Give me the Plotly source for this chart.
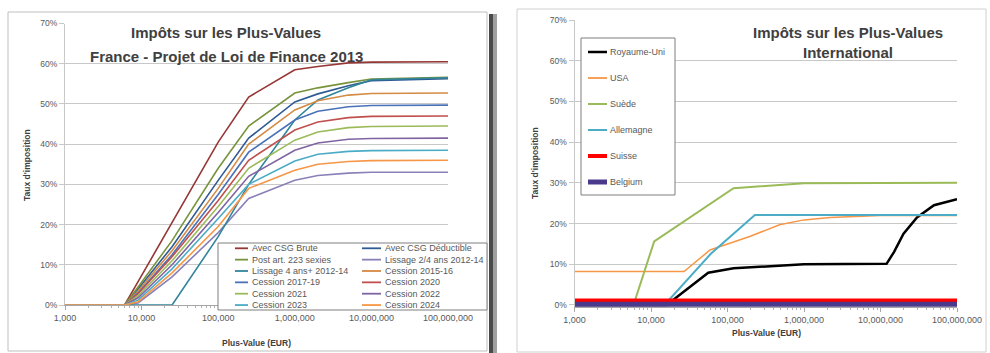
import plotly.graph_objects as go

W, H = 990, 353

# ---------------- Left chart: France ----------------
fr_x = [1000, 6000, 9000, 25000, 100000, 250000, 1000000, 2000000, 5000000, 10000000, 100000000]

avec_csg_brute      = [0, 0, 5.8, 20.5, 40.5, 51.7, 58.5, 59.3, 60.2, 60.4, 60.5]
avec_csg_deductible = [0, 0, 4.0, 14.5, 31.0, 41.5, 50.5, 52.5, 54.5, 55.8, 56.3]
post_art_223        = [0, 0, 4.5, 16.0, 34.0, 44.5, 52.7, 54.0, 55.3, 56.2, 56.6]
lissage_2_4         = [0, 0, 0.5, 7.0, 18.0, 26.5, 31.0, 32.2, 32.8, 33.0, 33.0]
lissage_4_plus      = [0, 0, 0.0, 0.0, 17.0, 30.0, 46.0, 51.0, 54.0, 56.0, 56.5]
cession_2015_16     = [0, 0, 3.5, 13.5, 29.0, 40.0, 48.5, 50.8, 52.2, 52.6, 52.7]
cession_2017_19     = [0, 0, 3.0, 12.5, 27.5, 38.0, 46.0, 48.2, 49.3, 49.6, 49.7]
cession_2020        = [0, 0, 2.8, 12.0, 26.0, 36.0, 43.5, 45.5, 46.6, 46.9, 47.0]
cession_2021        = [0, 0, 2.3, 11.0, 24.5, 34.0, 41.0, 43.0, 44.1, 44.4, 44.5]
cession_2022        = [0, 0, 1.8, 10.0, 23.0, 32.0, 38.5, 40.3, 41.2, 41.4, 41.5]
cession_2023        = [0, 0, 1.2, 9.0, 21.5, 30.0, 35.8, 37.5, 38.2, 38.4, 38.5]
cession_2024        = [0, 0, 0.8, 8.0, 19.5, 29.0, 33.5, 35.0, 35.7, 35.9, 36.0]

fr_series = [
    ("Avec CSG Brute", avec_csg_brute, "#953735"),
    ("Avec CSG Déductible", avec_csg_deductible, "#2F5B94"),
    ("Post art. 223 sexies", post_art_223, "#77933C"),
    ("Lissage 2/4 ans 2012-14", lissage_2_4, "#8A80B8"),
    ("Lissage 4 ans+ 2012-14", lissage_4_plus, "#31859C"),
    ("Cession 2015-16", cession_2015_16, "#D58A45"),
    ("Cession 2017-19", cession_2017_19, "#4A72B8"),
    ("Cession 2020", cession_2020, "#C0504D"),
    ("Cession 2021", cession_2021, "#9BBB59"),
    ("Cession 2022", cession_2022, "#8064A2"),
    ("Cession 2023", cession_2023, "#4BACC6"),
    ("Cession 2024", cession_2024, "#F79646"),
]

# ---------------- Right chart: International ----------------
uk_x = [1000, 16000, 56000, 120000, 1000000, 12000000, 15000000, 20000000, 30000000, 50000000, 100000000]
uk_y = [0, 0, 7.9, 9.0, 10.0, 10.1, 13.0, 17.5, 21.5, 24.5, 26.0]
usa_x = [1000, 27000, 59000, 108000, 195000, 480000, 1000000, 2200000, 10000000, 100000000]
usa_y = [8.2, 8.2, 13.5, 15.2, 16.8, 19.7, 20.9, 21.5, 22.0, 22.0]
se_x = [1000, 5900, 11000, 120000, 1000000, 100000000]
se_y = [0, 0, 15.6, 28.7, 29.9, 30.0]
de_x = [1000, 15000, 60000, 228000, 100000000]
de_y = [0, 0, 12.5, 22.1, 22.1]
ch_x = [1000, 100000000]
ch_y = [1.1, 1.1]
be_x = [1000, 100000000]
be_y = [0.2, 0.2]

intl_series = [
    ("Royaume-Uni", uk_x, uk_y, "#000000", 2.5),
    ("USA", usa_x, usa_y, "#F79646", 1.5),
    ("Suède", se_x, se_y, "#9BBB59", 2),
    ("Allemagne", de_x, de_y, "#4BACC6", 2),
    ("Suisse", ch_x, ch_y, "#FF0000", 4),
    ("Belgium", be_x, be_y, "#4B3A8C", 5),
]

tick_vals = [1e3, 1e4, 1e5, 1e6, 1e7, 1e8]
tick_text = ["1,000", "10,000", "100,000", "1,000,000", "10,000,000", "100,000,000"]
y_ticks = [0, 10, 20, 30, 40, 50, 60, 70]

FONT = "Liberation Sans"
GRAY = "#595959"


def px(x):
    return x / W


def py(y):
    return 1 - y / H


fig = go.Figure()

for name, vals, color in fr_series:
    fig.add_trace(go.Scatter(x=fr_x, y=vals, mode="lines", name=name,
                             line=dict(color=color, width=1.6),
                             xaxis="x", yaxis="y", showlegend=False))

for name, xs, ys, color, wd in intl_series:
    fig.add_trace(go.Scatter(x=xs, y=ys, mode="lines", name=name,
                             line=dict(color=color, width=wd),
                             xaxis="x2", yaxis="y2", showlegend=False))

xcommon = dict(type="log", tickvals=tick_vals, ticktext=tick_text, automargin=False,
               showgrid=False, showline=True, linecolor="#A6A6A6", linewidth=1,
               ticks="outside", ticklen=4, tickcolor="#A6A6A6",
               minor=dict(ticks="outside", ticklen=2, tickcolor="#B0B0B0", dtick="D1",
                          showgrid=False),
               tickfont=dict(family=FONT, size=9, color=GRAY),
               range=[3, 8], zeroline=False)
ycommon = dict(tickvals=y_ticks, ticktext=["%d%%" % v for v in y_ticks], automargin=False,
               showgrid=True, gridcolor="#C8C8C8", gridwidth=1,
               showline=True, linecolor="#C8C8C8", ticks="outside", ticklen=5,
               tickcolor="#C8C8C8", tickfont=dict(family=FONT, size=8.5, color=GRAY),
               zeroline=False)

fig.update_layout(
    width=W, height=H, margin=dict(l=0, r=0, t=0, b=0, autoexpand=False),
    paper_bgcolor="white", plot_bgcolor="white",
    xaxis=dict(domain=[px(65), px(448)], anchor="y", **xcommon),
    yaxis=dict(domain=[py(305), py(23.5)], anchor="x", range=[0, 70], **ycommon),
    xaxis2=dict(domain=[px(574.5), px(957)], anchor="y2", **xcommon),
    yaxis2=dict(domain=[py(307), py(20)], anchor="x2", range=[-0.5, 70], **ycommon),
    showlegend=False,
)

shapes = []
annotations = []

# chart borders
shapes.append(dict(type="rect", xref="paper", yref="paper", x0=px(8), x1=px(487),
                   y0=py(351), y1=py(12), line=dict(color="#BFBFBF", width=1), layer="below"))
shapes.append(dict(type="rect", xref="paper", yref="paper", x0=px(517), x1=px(986),
                   y0=py(352), y1=py(9), line=dict(color="#D0D0D0", width=1), layer="below"))
shapes.append(dict(type="rect", xref="paper", yref="paper", x0=px(489), x1=px(493),
                   y0=py(353), y1=py(14), line=dict(width=0), fillcolor="#4A4A4A", layer="below"))
shapes.append(dict(type="rect", xref="paper", yref="paper", x0=px(493), x1=px(497),
                   y0=py(353), y1=py(14), line=dict(width=0), fillcolor="#A0A0A0", layer="below"))

LEG_FONT = dict(family=FONT, size=9, color=GRAY)

# left legend (two columns)
shapes.append(dict(type="rect", xref="paper", yref="paper", x0=px(218), x1=px(487),
                   y0=py(310), y1=py(243), line=dict(color="#7F7F7F", width=1),
                   fillcolor="white", layer="above"))
col_line = [(235, 248), (362, 381)]
col_text = [250, 383]
for i, (name, vals, color) in enumerate(fr_series):
    col, row = i % 2, i // 2
    yy = 248.3 + row * 11.35
    shapes.append(dict(type="line", xref="paper", yref="paper",
                       x0=px(col_line[col][0]), x1=px(col_line[col][1]),
                       y0=py(yy), y1=py(yy), line=dict(color=color, width=1.8), layer="above"))
    annotations.append(dict(text=name, x=px(col_text[col]), y=py(yy), xref="paper", yref="paper",
                            xanchor="left", yanchor="middle", showarrow=False, font=LEG_FONT))

# right legend (one column)
shapes.append(dict(type="rect", xref="paper", yref="paper", x0=px(581), x1=px(675),
                   y0=py(195), y1=py(38), line=dict(color="#7F7F7F", width=1),
                   fillcolor="white", layer="above"))
for i, (name, xs, ys, color, wd) in enumerate(intl_series):
    yy = 52 + i * 26
    shapes.append(dict(type="line", xref="paper", yref="paper", x0=px(588), x1=px(607),
                       y0=py(yy), y1=py(yy), line=dict(color=color, width=max(wd, 1.8)),
                       layer="above"))
    annotations.append(dict(text=name, x=px(608), y=py(yy), xref="paper", yref="paper",
                            xanchor="left", yanchor="middle", showarrow=False, font=LEG_FONT))

TITLE_FONT = dict(family=FONT, size=15, color="#404040")
for txt, x, y in [("<b>Impôts sur les Plus-Values</b>", 226, 33),
                  ("<b>France - Projet de Loi de Finance 2013</b>", 226, 57),
                  ("<b>Impôts sur les Plus-Values</b>", 848, 32),
                  ("<b>International</b>", 848, 53)]:
    annotations.append(dict(text=txt, x=px(x), y=py(y), xref="paper", yref="paper",
                            xanchor="center", yanchor="middle", showarrow=False, font=TITLE_FONT))

AX_FONT = dict(family=FONT, size=8.5, color="#404040")
for x, y in [(256.5, 343), (766, 333)]:
    annotations.append(dict(text="<b>Plus-Value (EUR)</b>", x=px(x), y=py(y), xref="paper", yref="paper",
                            xanchor="center", yanchor="middle", showarrow=False, font=AX_FONT))
for x, y in [(27, 165), (535, 163)]:
    annotations.append(dict(text="<b>Taux d'imposition</b>", x=px(x), y=py(y), xref="paper", yref="paper",
                            xanchor="center", yanchor="middle", showarrow=False, textangle=-90,
                            font=AX_FONT))

fig.update_layout(shapes=shapes, annotations=annotations)
fig.write_html(
    "out.html",
    config={"displayModeBar": False},
    post_script="document.body.style.margin='0px';document.body.style.overflow='hidden';",
)
